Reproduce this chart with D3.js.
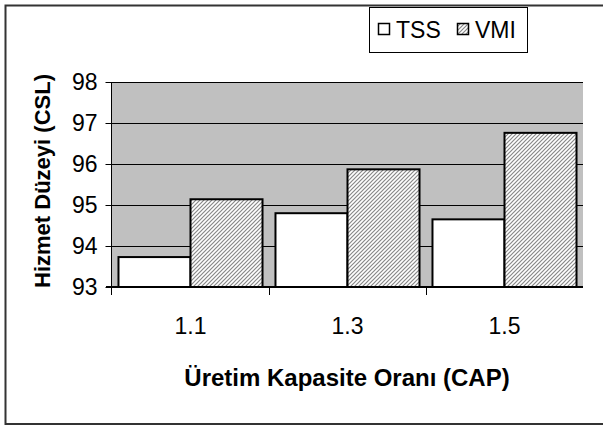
<!DOCTYPE html>
<html>
<head>
<meta charset="utf-8">
<script src="https://cdn.jsdelivr.net/npm/d3@7"></script>
<style>
  body { margin: 0; background: #fff; }
  text { font-family: "Liberation Sans", Arial, sans-serif; fill: #000; }
</style>
</head>
<body>
<div id="chart"></div>
<script>
const categories = ["1.1", "1.3", "1.5"];
const seriesNames = ["TSS", "VMI"];
const tss = [93.73, 94.8, 94.65];
const vmi = [95.14, 95.87, 96.76];
const yTicks = [93, 94, 95, 96, 97, 98];

const w = 603, h = 429;
const plot = { left: 112, right: 583, top: 82, bottom: 287 };

const svg = d3.select("#chart").append("svg")
  .attr("width", w).attr("height", h);

// hatch pattern for VMI
const defs = svg.append("defs");
const pat = defs.append("pattern")
  .attr("id", "hatch")
  .attr("patternUnits", "userSpaceOnUse")
  .attr("width", 4).attr("height", 4);
pat.append("rect").attr("width", 4).attr("height", 4).attr("fill", "#fff");
pat.append("path")
  .attr("d", "M-1,1 l2,-2 M0,4 l4,-4 M3,5 l2,-2")
  .attr("stroke", "#888").attr("stroke-width", 1.2);

// outer frame
svg.append("rect")
  .attr("x", 5.5).attr("y", 5.5)
  .attr("width", 610).attr("height", 418.5)
  .attr("fill", "none").attr("stroke", "#333").attr("stroke-width", 2);

const x0 = d3.scaleBand().domain(categories).range([plot.left, plot.right]).paddingInner(0).paddingOuter(0);
const x1 = d3.scaleBand().domain(seriesNames).range([0, x0.bandwidth()]).paddingOuter(0.09).paddingInner(0);
const y = d3.scaleLinear().domain([93, 98]).range([plot.bottom, plot.top]);

// plot background
svg.append("rect")
  .attr("x", plot.left).attr("y", plot.top)
  .attr("width", plot.right - plot.left).attr("height", plot.bottom - plot.top)
  .attr("fill", "#c0c0c0");

// gridlines
svg.append("g").selectAll("line")
  .data(yTicks.filter(d => d > 93))
  .enter().append("line")
  .attr("x1", plot.left).attr("x2", plot.right)
  .attr("y1", d => Math.round(y(d)) + 0.5).attr("y2", d => Math.round(y(d)) + 0.5)
  .attr("stroke", "#000").attr("stroke-width", 1);

// bars
const rows = categories.map((c, i) => ({ cat: c, values: [
  { key: "TSS", v: tss[i] }, { key: "VMI", v: vmi[i] }
]}));

svg.append("g").selectAll("g")
  .data(rows).enter().append("g")
  .attr("transform", d => `translate(${x0(d.cat)},0)`)
  .selectAll("rect")
  .data(d => d.values).enter().append("rect")
  .attr("x", d => x1(d.key))
  .attr("y", d => y(d.v))
  .attr("width", x1.bandwidth())
  .attr("height", d => y(93) - y(d.v))
  .attr("fill", d => d.key === "TSS" ? "#fff" : "url(#hatch)")
  .attr("stroke", "#000").attr("stroke-width", 2);

// y axis
const yAxis = d3.axisLeft(y).tickValues(yTicks).tickSize(6).tickPadding(8).tickFormat(d3.format("d"));
const ya = svg.append("g").attr("transform", `translate(${plot.left - 0.5},0)`).call(yAxis);
ya.select(".domain").remove();
ya.append("line").attr("x1", 0).attr("x2", 0).attr("y1", plot.top).attr("y2", plot.bottom + 8).attr("stroke", "#000");
ya.selectAll(".tick line").attr("stroke", "#000");
ya.selectAll(".tick text").attr("font-size", 23).attr("font-family", "Liberation Sans, Arial, sans-serif").attr("fill", "#000");

// x axis
svg.append("line")
  .attr("x1", plot.left - 6).attr("x2", plot.right)
  .attr("y1", plot.bottom).attr("y2", plot.bottom)
  .attr("stroke", "#000").attr("stroke-width", 2);
svg.append("g").selectAll("line")
  .data(categories.slice(1)).enter().append("line")
  .attr("x1", d => x0(d) + 0.5).attr("x2", d => x0(d) + 0.5)
  .attr("y1", plot.bottom).attr("y2", plot.bottom + 8)
  .attr("stroke", "#000");
svg.append("g").selectAll("text")
  .data(categories).enter().append("text")
  .attr("x", d => x0(d) + x0.bandwidth() / 2)
  .attr("y", 334)
  .attr("text-anchor", "middle")
  .attr("font-size", 23)
  .text(d => d);

// axis titles
svg.append("text")
  .attr("x", 347).attr("y", 386)
  .attr("text-anchor", "middle")
  .attr("font-size", 24).attr("font-weight", "bold")
  .text("Üretim Kapasite Oranı (CAP)");

svg.append("text")
  .attr("transform", "translate(50,181) rotate(-90)")
  .attr("text-anchor", "middle")
  .attr("font-size", 22).attr("font-weight", "bold")
  .text("Hizmet Düzeyi (CSL)");

// legend
const legend = svg.append("g");
legend.append("rect")
  .attr("x", 369.5).attr("y", 7.5).attr("width", 158).attr("height", 45)
  .attr("fill", "#fff").attr("stroke", "#000").attr("stroke-width", 1);
const lx = [378, 457];
seriesNames.forEach((s, i) => {
  legend.append("rect")
    .attr("x", lx[i] + 0.5).attr("y", 23.5).attr("width", 11).attr("height", 11)
    .attr("fill", i === 0 ? "#fff" : "url(#hatch)")
    .attr("stroke", "#000").attr("stroke-width", 1.5);
  legend.append("text")
    .attr("x", lx[i] + 18).attr("y", 38)
    .attr("font-size", 23)
    .text(s);
});
</script>
</body>
</html>
